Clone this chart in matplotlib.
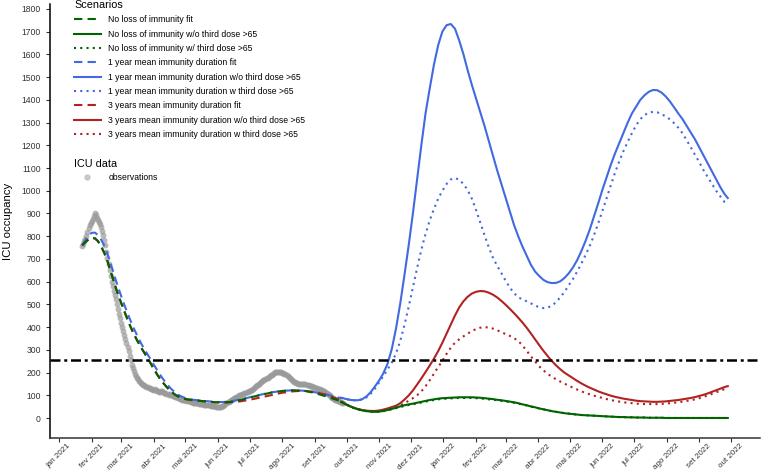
import numpy as np
import pandas as pd
import matplotlib
matplotlib.use("Agg")
import matplotlib.pyplot as plt
from matplotlib.lines import Line2D

plt.rcParams['font.family'] = ['Liberation Sans', 'DejaVu Sans']

# days are counted from 1 Jan 2021
base_date = pd.Timestamp('2021-01-01')

# ICU observations, daily from 23 Jan 2021
obs_start = '2021-01-23'
obs_values = [758, 765, 778, 790, 800, 820, 838, 850, 860, 868,
              875, 890, 904, 892, 880, 872, 862, 855, 840, 825,
              805, 785, 760, 732, 705, 678, 650, 625, 600, 580,
              560, 542, 525, 502, 480, 460, 440, 420, 400, 382,
              365, 347, 330, 312, 295, 275, 255, 236, 220, 206,
              195, 186, 178, 171, 165, 160, 155, 151, 148, 145,
              142, 139, 136, 134, 132, 130, 128, 126, 124, 127,
              126, 121, 118, 117, 116, 119, 120, 115, 112, 110,
              108, 105, 103, 106, 104, 100, 98, 97, 95, 93,
              92, 90, 88, 86, 84, 82, 80, 79, 78, 77,
              76, 75, 74, 72, 70, 69, 68, 67, 66, 65,
              65, 64, 64, 63, 62, 61, 60, 59, 58, 57,
              56, 56, 55, 54, 53, 53, 52, 51, 50, 49,
              49, 50, 50, 52, 55, 58, 62, 66, 70, 73,
              76, 79, 82, 85, 87, 90, 92, 95, 98, 100,
              102, 104, 106, 108, 110, 112, 114, 116, 118, 120,
              123, 126, 130, 134, 138, 141, 145, 148, 152, 156,
              160, 164, 167, 170, 172, 175, 178, 182, 185, 189,
              192, 195, 198, 201, 203, 205, 205, 204, 202, 201,
              200, 198, 195, 193, 190, 186, 182, 178, 174, 170,
              165, 161, 158, 155, 153, 151, 150, 150, 151, 152,
              152, 151, 150, 148, 147, 145, 143, 141, 140, 138,
              137, 135, 133, 131, 130, 129, 128, 126, 124, 121,
              118, 115, 112, 108, 104, 100, 95, 91, 88, 85,
              82, 80, 78, 76, 74, 72, 70, 68, 66]

# model fits (dashed)
fit_days = [22, 25, 28, 31, 34, 37, 40, 43, 46, 50, 54, 58, 62, 66, 70, 74, 78, 82, 86, 90,
            94, 98, 102, 106, 110, 115, 120, 126, 133, 140, 148, 155, 162, 172, 182, 192,
            202, 212, 222, 232, 242, 252, 260, 268]
fit_green = [760, 774, 786, 792, 791, 778, 755, 726, 690, 630, 572, 519, 470, 422, 380, 343,
             310, 280, 249, 216, 186, 160, 138, 119, 104, 91, 84, 80, 77, 73, 70, 69, 71,
             80, 92, 103, 113, 120, 123, 121, 112, 98, 86, 74]
fit_blue = [762, 784, 803, 815, 816, 805, 785, 757, 722, 665, 605, 550, 498, 450, 405, 365,
            328, 296, 266, 235, 205, 177, 152, 131, 114, 98, 88, 82, 78, 75, 72, 71, 73,
            82, 93, 104, 114, 120, 123, 121, 115, 106, 97, 88]
fit_red = [760, 774, 786, 792, 791, 778, 755, 726, 690, 630, 572, 519, 470, 422, 380, 343,
           310, 280, 249, 216, 186, 160, 138, 119, 104, 91, 84, 80, 77, 73, 70, 69, 70,
           74, 82, 92, 102, 112, 118, 121, 116, 105, 93, 78]

# scenario projections, every 4 days from day 268 (last point day 635)
scen_days = list(range(268, 633, 4)) + [635]
blue_no3 = [90, 85, 81, 79, 79, 84, 96, 115, 140, 166,
            198, 240, 305, 395, 505, 630, 760, 900, 1050, 1200,
            1340, 1450, 1555, 1640, 1700, 1728, 1733, 1712, 1660, 1600,
            1530, 1465, 1405, 1345, 1285, 1220, 1155, 1090, 1030, 970,
            910, 850, 800, 755, 715, 675, 645, 625, 608, 598,
            594, 595, 602, 617, 637, 663, 695, 735, 780, 830,
            888, 945, 1005, 1060, 1115, 1165, 1210, 1255, 1300, 1340,
            1370, 1400, 1420, 1435, 1443, 1442, 1432, 1415, 1393, 1367,
            1340, 1315, 1285, 1255, 1225, 1190, 1155, 1120, 1085, 1050,
            1015, 985, 968]
blue_3 = [90, 85, 81, 79, 79, 82, 92, 108, 130, 158,
          186, 215, 245, 285, 340, 410, 490, 575, 660, 740,
          810, 870, 920, 965, 1000, 1030, 1050, 1056, 1048, 1030,
          1003, 965, 915, 860, 805, 752, 706, 670, 638, 605,
          575, 550, 532, 522, 514, 505, 495, 488, 484, 486,
          495, 510, 532, 555, 585, 612, 645, 680, 718, 758,
          805, 857, 912, 968, 1025, 1080, 1130, 1175, 1215, 1253,
          1288, 1315, 1333, 1343, 1347, 1345, 1337, 1327, 1314, 1297,
          1277, 1253, 1222, 1190, 1157, 1125, 1090, 1060, 1030, 1000,
          975, 950, 943]
red_no3 = [72, 62, 53, 46, 40, 36, 33, 32, 32, 34,
           38, 43, 49, 55, 66, 82, 100, 122, 148, 175,
           203, 232, 262, 295, 332, 372, 412, 452, 487, 514,
           534, 548, 556, 559, 558, 552, 543, 531, 516, 499,
           481, 462, 442, 421, 398, 373, 347, 321, 296, 273,
           251, 232, 215, 200, 188, 176, 164, 153, 143, 134,
           126, 118, 111, 105, 99, 94, 90, 86, 83, 80,
           77, 75, 74, 73, 72, 72, 73, 74, 76, 78,
           80, 83, 86, 89, 93, 98, 103, 109, 116, 123,
           130, 137, 141]
red_3 = [72, 62, 53, 45, 39, 35, 32, 30, 30, 31,
         34, 38, 43, 49, 56, 66, 77, 88, 101, 118,
         140, 167, 196, 225, 253, 283, 310, 332, 347, 360,
         372, 383, 392, 398, 400, 399, 394, 387, 378, 370,
         362, 352, 340, 320, 297, 272, 250, 228, 210, 195,
         182, 171, 161, 152, 143, 134, 126, 118, 111, 105,
         99, 94, 89, 84, 80, 76, 73, 70, 68, 66,
         64, 63, 62, 62, 62, 62, 63, 64, 66, 68,
         70, 73, 76, 79, 83, 88, 94, 100, 107, 114,
         121, 128, 132]
green_no3 = [72, 62, 53, 45, 39, 34, 31, 29, 28, 29,
             32, 36, 41, 46, 52, 57, 61, 64, 68, 72,
             76, 80, 83, 86, 88, 89, 90, 91, 92, 92,
             92, 92, 91, 90, 88, 86, 84, 81, 79, 76,
             73, 70, 66, 61, 57, 52, 48, 43, 39, 35,
             31, 28, 25, 22, 20, 18, 16, 14, 13, 12,
             11, 10, 9, 8, 7, 6, 5, 5, 4, 4,
             3, 3, 3, 2, 2, 2, 2, 1, 1, 1,
             1, 1, 1, 1, 1, 1, 1, 1, 1, 1,
             1, 1, 1]
green_3 = [72, 62, 53, 45, 39, 34, 31, 29, 28, 29,
           31, 35, 39, 44, 49, 54, 58, 61, 65, 69,
           73, 77, 80, 83, 85, 86, 87, 88, 89, 89,
           89, 89, 88, 87, 85, 83, 81, 79, 76, 74,
           71, 68, 64, 60, 56, 51, 47, 43, 39, 35,
           31, 28, 25, 22, 20, 18, 16, 14, 13, 12,
           11, 10, 9, 8, 7, 6, 5, 5, 4, 4,
           3, 3, 3, 2, 2, 2, 2, 1, 1, 1,
           1, 1, 1, 1, 1, 1, 1, 1, 1, 1,
           1, 1, 1]

icu_threshold = 255

month_labels = ['jan 2021', 'fev 2021', 'mar 2021', 'abr 2021', 'mai 2021', 'jun 2021',
                'jul 2021', 'ago 2021', 'set 2021', 'out 2021', 'nov 2021', 'dez 2021',
                'jan 2022', 'fev 2022', 'mar 2022', 'abr 2022', 'mai 2022', 'jun 2022',
                'jul 2022', 'ago 2022', 'set 2022', 'out 2022']

scenario_labels = ['No loss of immunity fit',
                   'No loss of immunity w/o third dose >65',
                   'No loss of immunity w/ third dose >65',
                   '1 year mean immunity duration fit',
                   '1 year mean immunity duration w/o third dose >65',
                   '1 year mean immunity duration w third dose >65',
                   '3 years mean immunity duration fit',
                   '3 years mean immunity duration w/o third dose >65',
                   '3 years mean immunity duration w third dose >65']


def days_to_dates(days):
    return base_date + pd.to_timedelta(days, unit='D')


green = '#006400'
blue = '#4169E1'
red = '#B22222'
dashed = (0, (4, 2.5))
dotted = (0, (1, 2))
lw = 1.5

fig = plt.figure(figsize=(7.61, 4.71), dpi=100)
ax = fig.add_axes([50 / 761, 33 / 471, 710 / 761, 434 / 471])

obs_dates = pd.date_range(obs_start, periods=len(obs_values), freq='D')
ax.scatter(obs_dates, obs_values, s=18, color='#9a9a9a', alpha=0.7, linewidths=0, zorder=2)

fd = days_to_dates(fit_days)
sd = days_to_dates(scen_days)
ax.plot(fd, fit_blue, color=blue, lw=lw, ls=dashed, zorder=3)
ax.plot(fd, fit_red, color=red, lw=lw, ls=dashed, zorder=3)
ax.plot(fd, fit_green, color=green, lw=lw, ls=dashed, zorder=3)

ax.plot(sd, blue_3, color=blue, lw=lw, ls=dotted, zorder=3)
ax.plot(sd, blue_no3, color=blue, lw=lw, zorder=3)
ax.plot(sd, red_3, color=red, lw=lw, ls=dotted, zorder=3)
ax.plot(sd, red_no3, color=red, lw=lw, zorder=3)
ax.plot(sd, green_3, color=green, lw=lw, ls=dotted, zorder=3)
ax.plot(sd, green_no3, color=green, lw=lw, zorder=3)

ax.axhline(icu_threshold, color='black', lw=1.8, ls=(0, (4, 1.5, 1.2, 1.5)), zorder=4)

ax.set_xlim(days_to_dates([-8.6])[0], days_to_dates([665.6])[0])
ax.set_ylim(-87, 1821)

ticks = pd.date_range('2021-01-01', periods=len(month_labels), freq='MS')
ax.set_xticks(ticks)
ax.set_xticklabels(month_labels, rotation=45, ha='center', va='top',
                   fontsize=5.8, color='#333333')
ax.set_yticks(range(0, 1801, 100))
ax.set_yticklabels([str(v) for v in range(0, 1801, 100)], fontsize=6.2, color='#333333')
ax.tick_params(axis='both', length=3, width=0.8, color='#333333')
ax.tick_params(axis='x', pad=0.3)
ax.set_ylabel('ICU occupancy', fontsize=8.2, labelpad=6)

for side in ['top', 'right']:
    ax.spines[side].set_visible(False)
ax.spines['left'].set_linewidth(1.1)
ax.spines['bottom'].set_linewidth(1.1)
ax.spines['bottom'].set_color('#333333')

styles = [dashed, '-', dotted]
handles = []
for c in [green, blue, red]:
    for st in styles:
        handles.append(Line2D([], [], color=c, lw=lw, ls=st))

leg1 = fig.legend(handles, scenario_labels, title='Scenarios', loc='upper left',
                  bbox_to_anchor=(74 / 761, 1.0), frameon=False, fontsize=6.2,
                  title_fontsize=7.8, handlelength=3.1, handletextpad=0.9,
                  labelspacing=0.62, borderpad=0, borderaxespad=0)
leg1._legend_box.align = 'left'

obs_handle = Line2D([], [], marker='o', ls='', color='#bdbdbd', markersize=3.5, alpha=0.8)
leg2 = fig.legend([obs_handle], ['observations'], title='ICU data', loc='upper left',
                  bbox_to_anchor=(74 / 761, 1 - 159 / 471), frameon=False, fontsize=6.2,
                  title_fontsize=7.8, handlelength=3.1, handletextpad=0.9,
                  borderpad=0, borderaxespad=0)
leg2._legend_box.align = 'left'

fig.savefig('out.png', dpi=100)
